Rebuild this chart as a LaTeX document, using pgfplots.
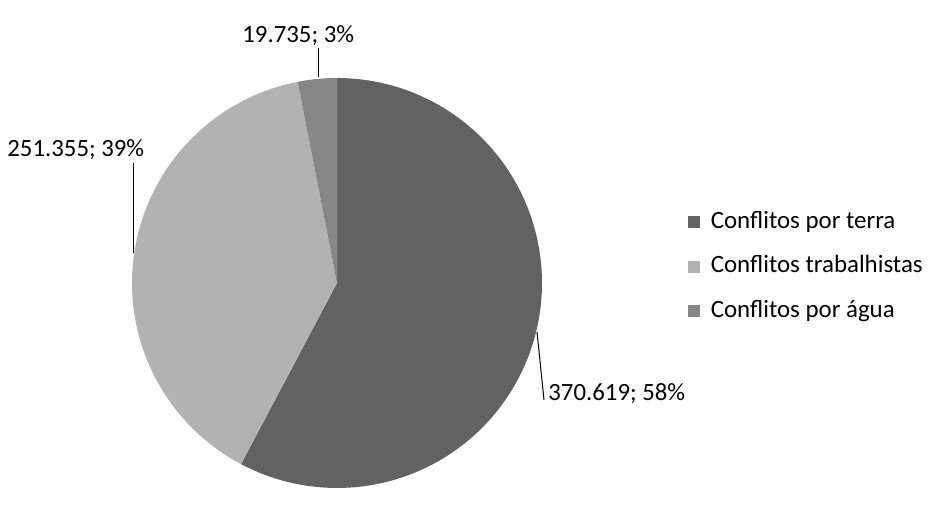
\documentclass[border=0pt]{standalone}
\usepackage{pgfplots}
\pgfplotsset{compat=1.18}
\usepackage{fontspec}
\setmainfont{Carlito}

\definecolor{cterra}{HTML}{626262}
\definecolor{ctrab}{HTML}{B2B2B2}
\definecolor{cagua}{HTML}{878787}

% valores (milhares): terra 370.619, trabalhistas 251.355, agua 19.735
\pgfmathsetmacro{\aB}{90-360*(370.619/641.709)}
\pgfmathsetmacro{\aC}{\aB-360*(251.355/641.709)+360}

\begin{document}
\fontsize{12.4pt}{14pt}\selectfont
\begin{tikzpicture}
\begin{axis}[
  x=0.5pt, y=0.5pt,
  xmin=0, xmax=941, ymin=0, ymax=513,
  hide axis, clip=false,
  legend image code/.code={\fill[#1, draw=none] (0pt,-3pt) rectangle (6pt,3pt);
    \path[draw=none, fill=none] (8pt,0pt);},
  legend style={at={(axis cs:682,246)}, anchor=west, draw=none, fill=none,
    font=\fontsize{12.45pt}{14pt}\selectfont,
    row sep=7.25pt,
    nodes={inner ysep=1.5pt, inner xsep=3.2pt, text height=9pt, text depth=3pt}},
  legend cell align=left,
]
\path (axis cs:0,0) rectangle (axis cs:941,513);

% fatias
\addplot[forget plot, fill=cterra, draw=none, domain=\aB:90, samples=120, variable=\t]
  ({337+205*cos(\t)}, {230+205*sin(\t)}) -- (axis cs:337,230) -- cycle;
\addplot[forget plot, fill=ctrab, draw=none, domain=\aC:\aB+360, samples=100, variable=\t]
  ({337+205*cos(\t)}, {230+205*sin(\t)}) -- (axis cs:337,230) -- cycle;
\addplot[forget plot, fill=cagua, draw=none, domain=90:\aC, samples=20, variable=\t]
  ({337+205*cos(\t)}, {230+205*sin(\t)}) -- (axis cs:337,230) -- cycle;

% linhas de chamada
\addplot[forget plot, black, line width=0.5pt] coordinates {(318,465) (318,436)};
\addplot[forget plot, black, line width=0.5pt] coordinates {(133,350) (133,260)};
\addplot[forget plot, black, line width=0.5pt] coordinates {(537,181) (544,113)};

\node[anchor=base west, inner sep=0pt] at (axis cs:242,470) {19.735; 3\%};
\node[anchor=base west, inner sep=0pt] at (axis cs:7,356) {251.355; 39\%};
\node[anchor=base west, inner sep=0pt] at (axis cs:548,112) {370.619; 58\%};

\addlegendimage{fill=cterra}
\addlegendimage{fill=ctrab}
\addlegendimage{fill=cagua}
\legend{Conflitos por terra, Conflitos trabalhistas, Conflitos por água}
\end{axis}
\end{tikzpicture}
\end{document}
